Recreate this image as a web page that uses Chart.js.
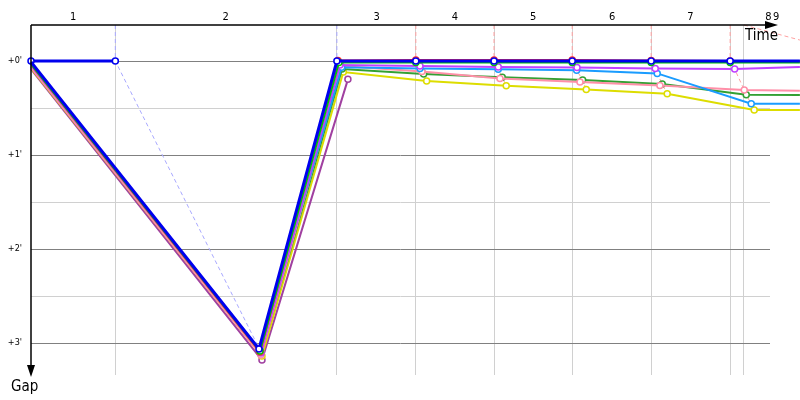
<!DOCTYPE html>
<html>
<head>
<meta charset="utf-8">
<script src="https://cdn.jsdelivr.net/npm/chart.js@4.4.1/dist/chart.umd.min.js"></script>
<style>
html,body{margin:0;padding:0;background:#fff;}
canvas{display:block;}
</style>
</head>
<body>
<canvas id="c" width="800" height="400"></canvas>
<script>
// ---- data (x = elapsed time in s, y = gap in s) ----
const lapEnds = [110, 399, 502, 604, 706, 809, 912, 930];
const lapLabels = ['1','2','3','4','5','6','7','8','9'];
const lapLabelTimes = [55, 254, 451, 553, 655, 758, 860, 962, 972];
const gapTicks = [0, 30, 60, 90, 120, 150, 180];
const X_MIN = 0, X_MAX = 964, Y_MIN = -23, Y_MAX = 200.4;

const blueCar   = [[0,0.6],[297.4,183.8],[399,0],[502,0],[604,0],[706,0],[809,0],[912,0],[1003,0]];
const leaderLap1 = [[0,0],[110,0]];
const redCar    = [[0,2.2],[298.7,185.7],[400.4,-0.4],[502,-0.7],[604,-0.7],[706,-0.7],[809,-0.4],[912,0],[1003,0]];
const greenCar  = [[0,1.9],[298.7,185.1],[401.7,1.0],[502,1.0],[604,1.0],[706,1.0],[809,1.0],[912,1.0],[1003,1.0]];
const magentaCar= [[0,2.9],[300,186.4],[403,2.6],[507.4,3.2],[609.5,3.8],[712.2,4.1],[814.3,4.7],[917.9,5.1],[1003,3.8]];
const lightBlueCar=[[0,1.3],[298.7,184.5],[405.3,4.0],[507.4,4.7],[609.5,5.3],[711.8,5.9],[816.9,7.9],[939.5,27.3],[1003,27.3]];
const darkGreenCar=[[0,3.5],[300,187.0],[405.7,5.1],[512.2,8.3],[614.7,10.4],[719.6,12.1],[823.4,14.7],[933,21.5],[1003,21.7]];
const pinkCar   = [[0,4.1],[300,187.7],[404.3,3.2],[510,6.7],[611.7,11.2],[716.1,13.4],[820.4,15.6],[930.4,18.5],[1003,19.0]];
const yellowCar = [[0,4.5],[301.3,188.3],[407.4,7.0],[516.1,12.8],[619.9,15.8],[724.3,18.1],[829.9,20.9],[943.4,31.3],[1003,31.3]];
const purpleCar = [[0,5.1],[301.3,190.9],[413.4,11.7]];

const lapLine1 = [[110,-23],[110,0],[298.7,184.5]];
const lapLine2 = [[399,-23],[399,0],[405.3,4.0],[407.4,7.0],[413.4,11.7]];
const lapLine3 = [[502,-23],[502,0],[507.4,4.7],[512.2,8.3],[516.1,12.8]];
const lapLine4 = [[604,-23],[604,0],[609.5,5.3],[614.7,10.4],[619.9,15.8]];
const lapLine5 = [[706,-23],[706,0],[711.8,5.9],[719.6,12.1],[724.3,18.1]];
const lapLine6 = [[809,-23],[809,0],[814.3,4.7],[816.9,7.9],[823.4,14.7],[829.9,20.9]];
const lapLine7 = [[912,-23],[912,0],[917.9,5.1],[930.4,18.5],[933,21.5],[939.5,27.3],[943.4,31.3]];
const lapLine8 = [[930,-23],[1003,-13.4]];

const FONT = '"DejaVu Sans Condensed", "Liberation Sans", sans-serif';
const pts = a => a.map(([x,y]) => ({x, y}));

function car(arr, color, width, showStart) {
  return {
    data: pts(arr), borderColor: color, borderWidth: width,
    pointBackgroundColor: '#fff', pointBorderColor: color, pointBorderWidth: 1.5,
    pointRadius: c => (c.raw && (c.raw.x > X_MAX || (!showStart && c.raw.x === X_MIN))) ? 0 : 3,
    tension: 0, clip: false, fill: false
  };
}
function lapLine(arr, color) {
  return {
    data: pts(arr), borderColor: color, borderWidth: 1, borderDash: [4, 3],
    pointRadius: 0, tension: 0, clip: false, fill: false
  };
}

const datasets = [
  car(blueCar, '#0000ee', 3, false),
  car(leaderLap1, '#0000ee', 3, true),
  car(greenCar, '#00c000', 2, false),
  car(redCar, '#ff3030', 2, false),
  car(magentaCar, '#c040ff', 2, false),
  car(lightBlueCar, '#1a9cff', 2, false),
  car(pinkCar, '#ff8fa8', 2, false),
  car(darkGreenCar, '#33a033', 2, false),
  car(yellowCar, '#dddd00', 2, false),
  car(purpleCar, '#a040a0', 2, false),
  lapLine(lapLine1, '#a8a8ff'),
  lapLine(lapLine2, '#a8a8ff'),
  lapLine(lapLine3, '#ffa0a0'),
  lapLine(lapLine4, '#ffa0a0'),
  lapLine(lapLine5, '#ffa0a0'),
  lapLine(lapLine6, '#ffa0a0'),
  lapLine(lapLine7, '#ffa0a0'),
  lapLine(lapLine8, '#ffa0a0')
];

const axesPlugin = {
  id: 'axesPlugin',
  afterDraw(chart) {
    const {ctx, chartArea: a, scales: {x, y}} = chart;
    ctx.save();
    ctx.strokeStyle = '#000'; ctx.fillStyle = '#000'; ctx.lineWidth = 1.5;
    // top time axis with arrow
    const y0 = a.top;
    ctx.beginPath(); ctx.moveTo(a.left, y0); ctx.lineTo(a.right, y0); ctx.stroke();
    ctx.beginPath(); ctx.moveTo(a.right + 8, y0); ctx.lineTo(a.right - 5, y0 - 4); ctx.lineTo(a.right - 5, y0 + 4); ctx.closePath(); ctx.fill();
    // left gap axis with arrow
    const x0 = a.left;
    ctx.beginPath(); ctx.moveTo(x0, a.top); ctx.lineTo(x0, a.bottom - 6); ctx.stroke();
    ctx.beginPath(); ctx.moveTo(x0, a.bottom + 2); ctx.lineTo(x0 - 4, a.bottom - 10); ctx.lineTo(x0 + 4, a.bottom - 10); ctx.closePath(); ctx.fill();
    // axis titles
    ctx.font = '15px ' + FONT;
    ctx.textAlign = 'right'; ctx.textBaseline = 'alphabetic';
    ctx.fillText('Time', a.right + 8, a.top + 15);
    ctx.textAlign = 'left';
    ctx.fillText('Gap', 11, a.bottom + 16);
    // lap labels
    ctx.font = '11px ' + FONT;
    ctx.textAlign = 'center'; ctx.textBaseline = 'middle';
    lapLabels.forEach((t, i) => ctx.fillText(t, x.getPixelForValue(lapLabelTimes[i]), 17.5));
    ctx.restore();
  }
};

new Chart(document.getElementById('c'), {
  type: 'line',
  data: { datasets },
  plugins: [axesPlugin],
  options: {
    responsive: false, animation: false, devicePixelRatio: 1,
    layout: { padding: { left: 0, right: 30, top: 0, bottom: 25 } },
    plugins: { legend: { display: false }, tooltip: { enabled: false } },
    scales: {
      x: {
        type: 'linear', position: 'top', min: X_MIN, max: X_MAX,
        grid: { color: '#d0d0d0', lineWidth: 1, drawTicks: false },
        border: { display: false },
        ticks: { display: false },
        afterBuildTicks: s => { s.ticks = lapEnds.map(v => ({value: v})); },
        afterFit: s => { s.height = 25; }
      },
      y: {
        type: 'linear', reverse: true, min: Y_MIN, max: Y_MAX,
        grid: { color: c => (c.tick && c.tick.value % 60 === 0) ? '#808080' : '#d0d0d0', lineWidth: 1, drawTicks: false },
        border: { display: false },
        ticks: { padding: 9, color: '#000', font: { size: 9, family: FONT },
                 callback: v => (v % 60 === 0) ? "+" + (v / 60) + "'" : '' },
        afterBuildTicks: s => { s.ticks = gapTicks.map(v => ({value: v})); },
        afterFit: s => { s.width = 31; }
      }
    }
  }
});
</script>
</body>
</html>
